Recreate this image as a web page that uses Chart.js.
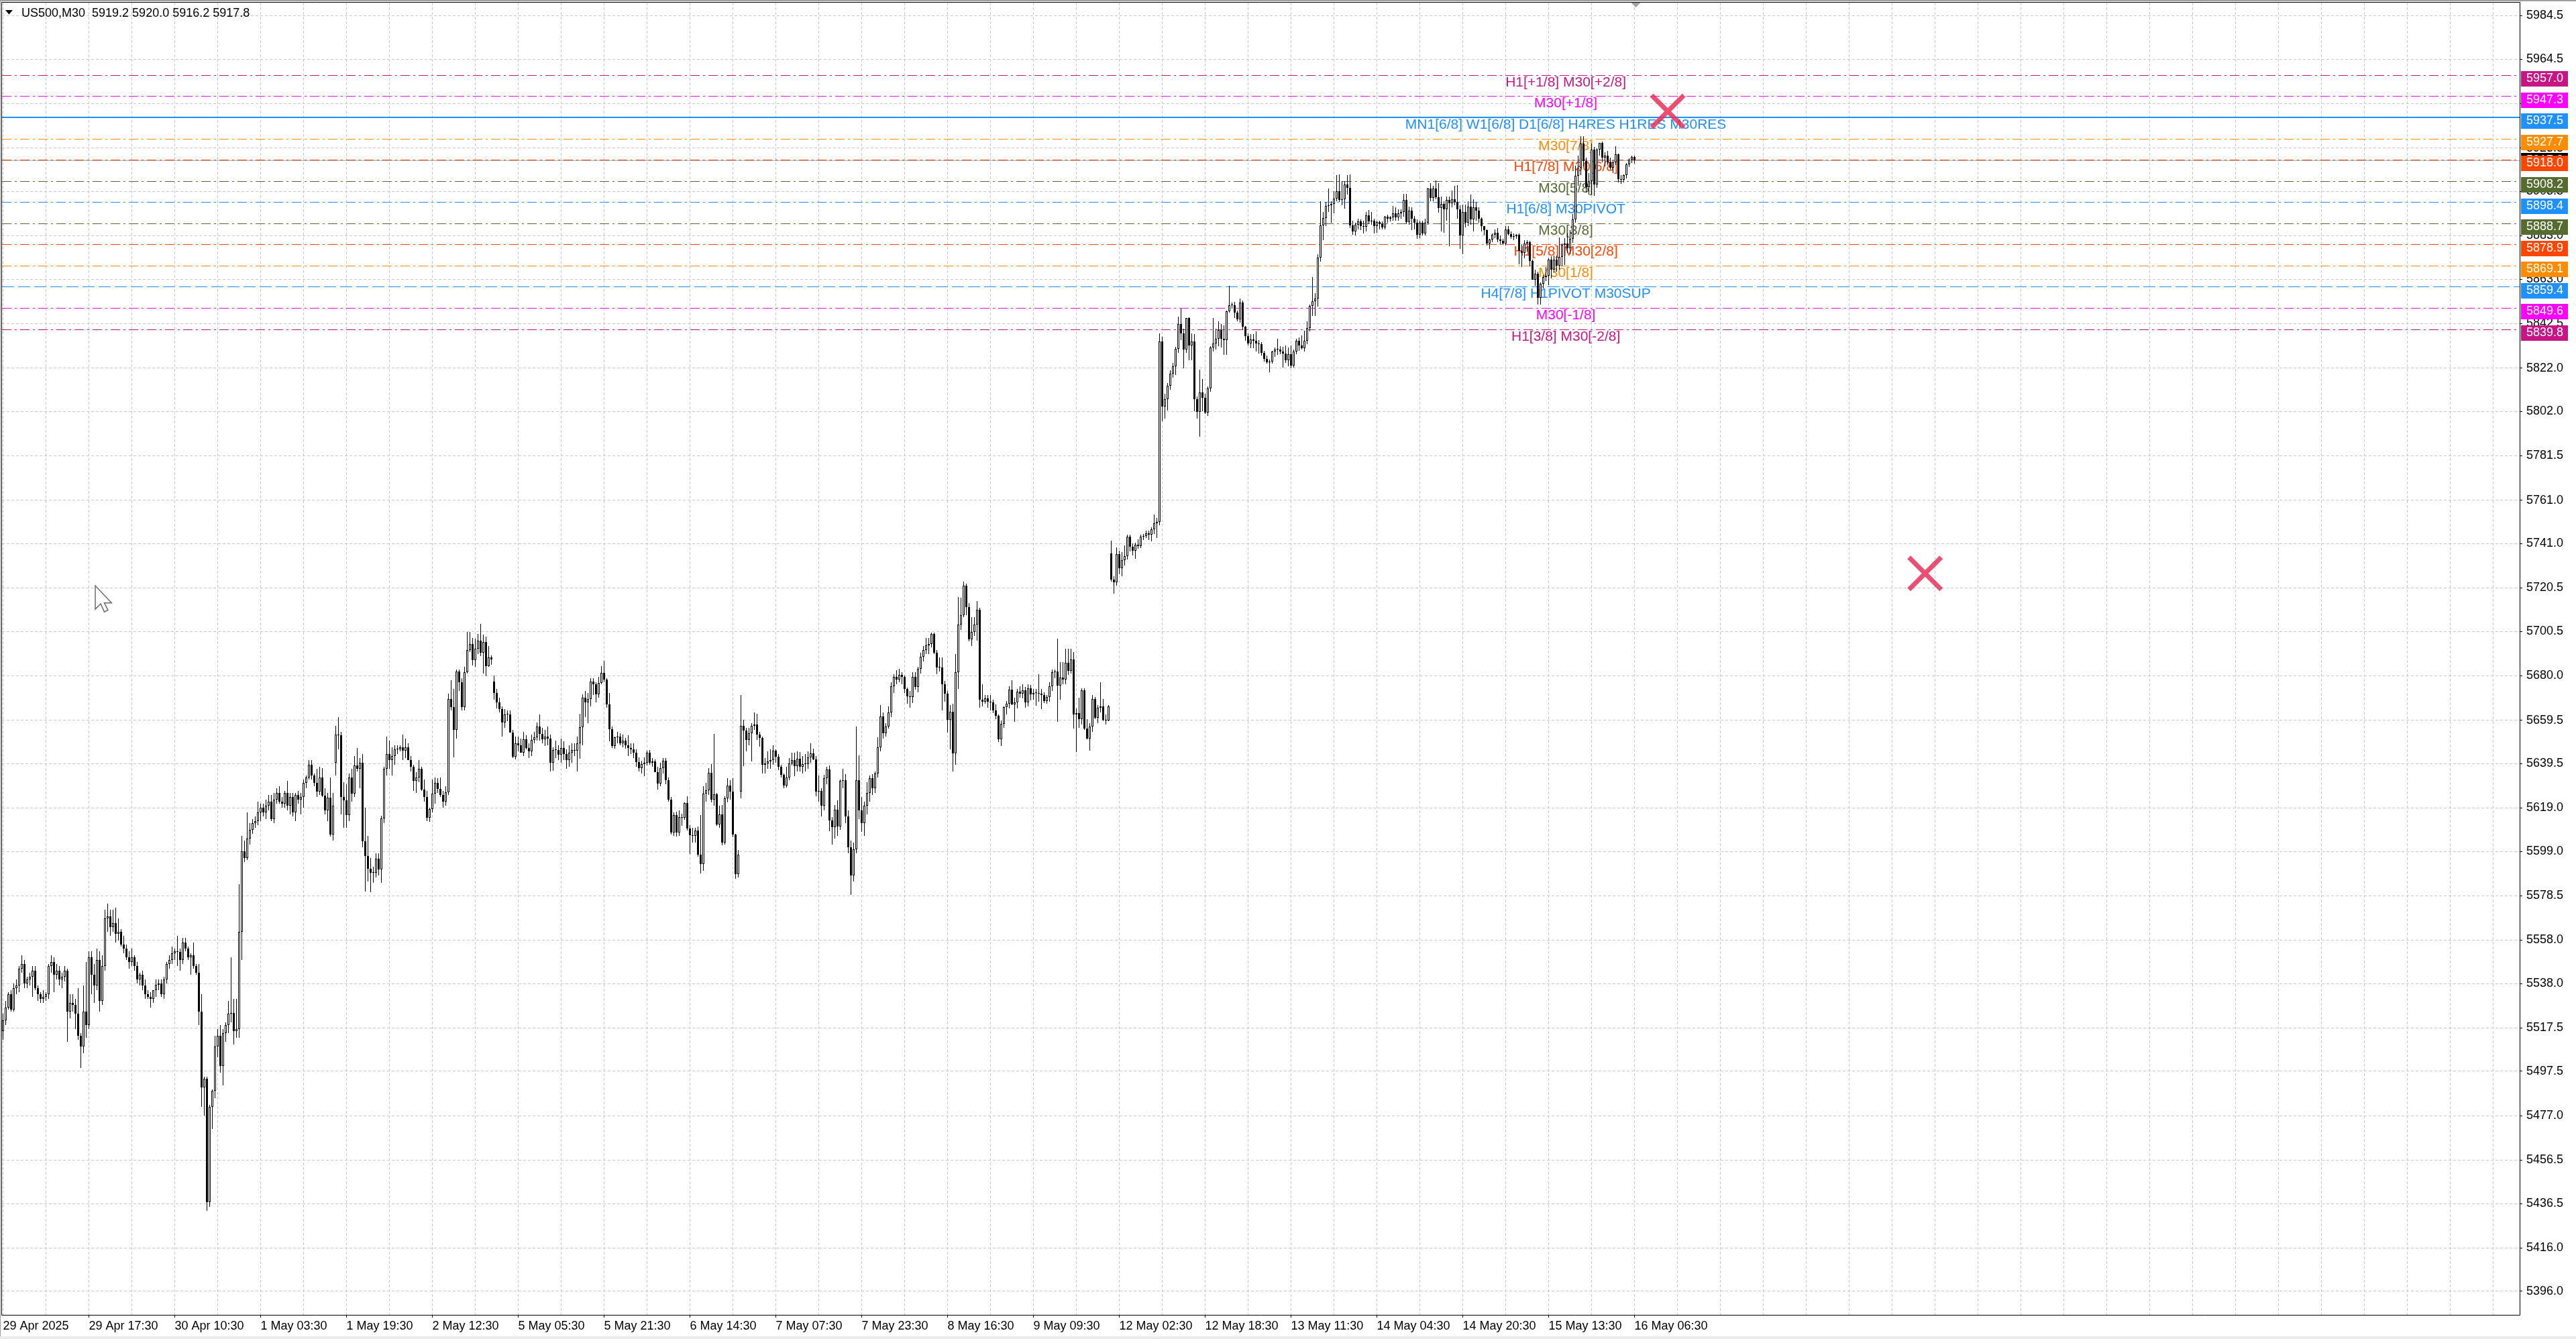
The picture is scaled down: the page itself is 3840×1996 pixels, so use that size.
<!DOCTYPE html>
<html>
<head>
<meta charset="utf-8">
<script src="https://cdn.jsdelivr.net/npm/chart.js@4.4.1/dist/chart.umd.min.js"></script>
<style>
html, body { margin: 0; padding: 0; background: #fff; }
canvas { display: block; }
</style>
</head>
<body>
<canvas id="chart" width="3840" height="1996"></canvas>
<script>
const symbol = "US500,M30"

const opens = [
5516,5521,5527,5533,5526,5536,5537,5545,5547,5538,
5540,5541,5544,5536,5533,5531,5532,5533,5546,5548,
5542,5544,5540,5541,5544,5525,5529,5528,5524,5514,
5509,5525,5519,5550,5542,5537,5549,5530,5546,5568,
5569,5564,5566,5561,5562,5556,5554,5550,5548,5550,
5546,5540,5542,5537,5533,5532,5531,5535,5537.5,5538,
5533,5540,5547,5549,5552,5553,5552.5,5549,5557,5554,
5550,5551,5546,5543,5525,5490,5494,5437,5481,5488.5,
5509,5514,5500,5515,5519,5524,5524.5,5516,5517,5562,
5599,5596,5605,5609,5612,5613,5617,5619,5617,5620,
5622,5614,5623,5626,5622,5621,5626,5620,5624,5617,
5625,5623,5624,5630.5,5633,5639,5634,5630.5,5626.5,5633,
5624.7,5618,5623.7,5606.7,5640,5653,5652.5,5624,5622.5,5615.7,
5633,5625.5,5638.7,5637,5640,5603.8,5597,5591,5589,5589,
5595.7,5590.7,5614.2,5637,5644,5641,5643,5646,5646,5647,
5645.5,5647,5641.2,5638,5631.5,5633,5637,5627.4,5624,5614.5,
5618.5,5625.5,5630.6,5627.8,5625,5622,5626.3,5669.4,5665.5,5655,
5682,5677,5665.7,5681.5,5691.8,5694.6,5687.2,5692.4,5696.2,5690.7,
5695.5,5684.5,5688.6,5677.3,5672,5667.6,5664.7,5658.5,5662,5662,
5653.9,5642.8,5649,5648,5644.6,5650.8,5646.7,5645,5650.5,5651.5,
5656.5,5653.2,5650.8,5651.8,5651,5640,5645.6,5645.8,5643.6,5646.7,
5643.9,5641,5644.6,5645.6,5645.3,5648.7,5656.4,5669.9,5667.8,5669.4,
5677.3,5676,5671.4,5676.6,5681.4,5678.1,5666.8,5655.2,5647.7,5651.5,
5652,5649,5650,5648,5646.7,5646,5644.6,5640.2,5637.4,5639.1,
5639.8,5644.6,5639.8,5640.5,5635.6,5630.2,5637.4,5640.8,5631.7,5622.9,
5607.8,5615.7,5607.8,5614.7,5614.5,5621.2,5609.5,5606.4,5606,5608.5,
5597.6,5593,5625.7,5627.1,5635.3,5622.9,5625.3,5611.3,5616,5603,
5623.6,5629.4,5626.7,5606.7,5588.4,5626.5,5657,5654.6,5650.3,5653.6,
5657,5657.5,5652.8,5651.3,5638.9,5639.7,5640.5,5641,5645.3,5642.8,
5637.9,5634.3,5629.4,5633.2,5639.7,5641,5638.4,5641.8,5638.1,5639.1,
5639.4,5642.2,5644.3,5641.5,5626.7,5627,5620,5632.7,5636.9,5613.1,
5610.2,5618.1,5610.5,5631.5,5631.8,5615,5601,5588,5600,5631.7,
5618,5612,5620,5626,5632.9,5628,5635,5647,5661.1,5653.4,
5656.7,5663.2,5675.3,5679.4,5678.2,5680.4,5679.4,5674,5670.4,5670.1,
5679.4,5674.8,5683.1,5688.7,5691.8,5694.1,5694.6,5699.3,5690.7,5683.8,
5683.8,5676.1,5671.8,5659.8,5663.5,5644.3,5681.5,5703.7,5707.9,5721.5,
5711.7,5696.9,5700.3,5703.7,5710.3,5668.9,5668,5669.6,5668,5667.8,
5663.9,5661.4,5650.8,5657.7,5665.6,5667,5673.5,5666.8,5667.6,5672.8,
5671.8,5673.2,5667.8,5674.2,5671.4,5672.2,5672,5671.8,5671,5668.4,
5670.1,5675.3,5681.8,5682,5675.6,5679.2,5678.3,5685.9,5682.3,5687.4,
5662.2,5662.7,5660,5673.2,5655.7,5651.1,5656.7,5669.4,5660.6,5665.3,
5666,5659.8,5659.4,5736.5,5724.5,5723.1,5736,5729.6,5733.3,5735.1,
5744.2,5739.5,5737.8,5740.5,5739.7,5744.2,5744.6,5745.6,5745.2,5747.6,
5750.3,5751,5834.1,5804.2,5807.5,5813.7,5819.5,5822.8,5830.7,5842.3,
5837.8,5830.4,5845,5832.3,5834.1,5807.5,5801.8,5810.6,5808.2,5801.4,
5812.7,5831.4,5833.4,5835.5,5839.6,5835.5,5835,5848.1,5850.8,5851,
5847.7,5844.6,5852.2,5840.9,5836.8,5833.2,5835.1,5834.6,5833.2,5832.9,
5829.1,5826.3,5824.6,5825,5829.6,5830.4,5830.5,5829.6,5828.6,5825.6,
5828.3,5823.2,5829.6,5834.5,5832.3,5831,5834.5,5840.5,5850.5,5852.8,
5854.1,5872.9,5887.9,5891.3,5896.8,5897.2,5897.7,5900.2,5903.6,5899.5,
5900,5906.7,5905.2,5887.9,5884.9,5888,5889.5,5887.6,5887.3,5892.5,
5889.5,5890,5887.6,5889.2,5888.5,5887,5891.7,5891,5891.5,5893.3,
5891.5,5893.5,5894,5899.4,5889.4,5894.5,5891,5889,5883.5,5889,
5884,5889,5904.9,5900.5,5904.9,5900.8,5895.8,5897.8,5895.3,5899.5,
5898,5899.9,5898.7,5895.3,5883,5894,5889,5896.4,5890.5,5896,
5894.6,5891,5887.4,5885.5,5879.3,5881.2,5883.5,5884.3,5881.4,5880.6,
5879.5,5886,5883.7,5882.6,5882.9,5883.3,5876,5875,5879.5,5880,
5871.3,5862.8,5865.5,5854.5,5861,5864.1,5864.5,5871.9,5867.5,5872,
5869.2,5873.1,5878.8,5879.5,5877.2,5881.6,5890.7,5910.8,5914.5,5925.5,
5917.5,5905.3,5908.2,5922.6,5906.6,5922.6,5925.7,5919,5920,5917,
5914.4,5917,5920.5,5909.2,5908.8,5911,5916,5918,5919.2
]

const highs = [
5524,5530,5534,5535,5538,5540,5546,5551,5549,5541,
5543,5546,5546,5537,5534,5535,5534,5547,5551,5550,
5547,5546,5543,5546,5545,5533,5533,5531,5536,5515,
5537,5548,5553,5553,5547,5554,5553,5551,5572,5575,
5572,5572,5573,5568,5563,5560,5556,5553,5554,5551,
5548,5543,5544,5540,5535,5534,5535,5540,5540,5540,
5541,5548,5551,5555,5554,5560,5554,5559,5559,5555,
5552,5557,5547,5547,5533,5495,5495,5482,5489,5514,
5517,5519,5517,5520,5530,5550,5531,5531,5584,5606,
5604,5617,5612,5614,5615,5622,5621,5621,5623,5625,
5625,5626,5628,5629,5624,5627,5631.5,5626,5626,5626,
5627,5626,5632,5634,5641,5641,5635,5637,5638,5637.5,
5628,5626,5633,5626,5657,5661,5654,5631,5630,5635,
5637,5643,5646.6,5642,5644,5619,5606,5596,5592,5598,
5598,5615.5,5638,5652,5650,5647,5648,5648,5648,5653,
5651,5649,5643,5639,5635.5,5641,5638,5632,5627,5619,
5632,5633,5632.6,5633,5627,5629,5671.6,5678,5674,5683,
5683,5679,5684,5700.3,5700.3,5697.5,5697,5699.3,5704,5699,
5698,5693.6,5689.5,5680.2,5674,5670,5666,5664.5,5664,5664,
5655,5652,5652,5651,5654,5652.6,5649,5653,5654,5658.5,
5662,5656,5655,5656.5,5653,5647,5650,5648,5651,5649.8,
5646,5648,5649,5649,5652,5662.6,5671.4,5673,5672,5679,
5679,5677,5679.6,5684.3,5686.9,5679,5672,5656.5,5652,5654,
5653.5,5653,5651.3,5652.5,5649,5649,5646,5642.2,5640.9,5642.5,
5645.5,5645.6,5642,5641.5,5638,5640,5642,5642,5633,5624,
5617,5617.2,5618,5616.2,5621.5,5624.5,5611,5610,5610,5610.5,
5615.7,5629,5630.5,5637.4,5639.4,5653.2,5626,5620,5620.4,5624.5,
5632.9,5631.9,5632.9,5607,5599.7,5671.1,5659.8,5656,5656,5658,
5663.2,5662.6,5654,5652,5642,5645,5646,5648,5646,5644,
5639,5635,5638,5642,5644.5,5644.6,5645,5644.9,5643,5644,
5645,5649,5646.5,5643,5634,5628,5634.3,5638,5638.5,5614.7,
5620.4,5622.6,5632,5637,5634.5,5618,5604,5603,5656.5,5643.3,
5624,5622,5631,5634,5634.5,5635.9,5651.5,5666.6,5663.2,5658,
5665.8,5677,5680.7,5682.5,5683.1,5681.8,5680,5674.5,5673,5681.8,
5681.8,5684.1,5690.5,5693.6,5697.5,5697.5,5700,5700,5692,5688.5,
5688.5,5677.6,5673,5666.6,5667,5690,5716.3,5716,5723.3,5722.5,
5713.5,5707,5707,5714.5,5711.5,5676,5671,5671,5671,5669,
5666.8,5662,5659.5,5666,5668.4,5675,5678,5670,5674,5675.3,
5676,5674.7,5676,5675.9,5674,5674,5680.7,5674,5672.5,5671,
5677,5682.8,5683,5697,5686.4,5686.4,5692.6,5692.4,5692.6,5691,
5665,5669.9,5674.3,5674.3,5660,5658,5671,5670.1,5666.5,5677,
5669.4,5662,5666.5,5742.4,5726,5739.2,5737.8,5737,5740.1,5745,
5745,5741,5741.5,5743,5745,5745.5,5747,5747,5748.5,5754.4,
5752.8,5838,5836.4,5810,5815,5821,5824.4,5831.8,5845.7,5849.5,
5840,5845,5845.5,5838,5837.5,5809,5821.2,5817,5810,5813.5,
5832,5845,5840.2,5843.6,5842.3,5841.6,5848.5,5860,5852.2,5852.5,
5848.5,5853.9,5853,5841.5,5838,5837.5,5837.5,5838.9,5835,5834,
5830,5827.7,5826,5830,5831.4,5835.5,5832,5831.8,5832.3,5831.4,
5832.3,5830.6,5835.5,5836,5837,5839.2,5843.6,5851.2,5864.1,5856.6,
5874.5,5898.9,5894,5898.5,5904.9,5899,5903.6,5911,5911.3,5908.3,
5908.3,5911,5911.3,5890,5889,5891,5890.5,5890,5894,5895,
5894,5891,5890,5889.8,5889.5,5892,5892.7,5892,5896.7,5896,
5895.3,5895.3,5902.2,5902.2,5896.4,5896,5892,5890.5,5890,5890,
5891,5905.2,5907.2,5906,5908.4,5907.2,5901,5899,5901,5901,
5904,5906,5906.2,5897,5897.4,5897.5,5899,5902,5900,5898.5,
5896,5891.5,5887.5,5886,5881.6,5884,5886,5886.6,5883,5881.5,
5887.4,5887.5,5885,5884,5883.8,5884,5879,5880.9,5881,5880.8,
5872,5867.5,5866.5,5861.5,5865,5868.5,5872.5,5873.5,5874,5874,
5882.2,5879.5,5882,5884.3,5885.7,5893,5915.4,5920.1,5928.9,5929,
5919,5912,5925.5,5924,5923.5,5926,5926.5,5921.6,5922,5919,
5918,5924.2,5921,5911,5911.3,5916.5,5918.6,5920,5920.0
]

const lows = [
5512,5519,5526,5525,5525,5533,5534,5543,5536,5536,
5537,5532,5535,5530,5529,5529,5530,5531,5543,5534,
5540,5537,5536,5539,5511,5522,5525,5517,5512,5499,
5506,5513,5517,5533,5529,5535,5525,5528,5544,5562,
5560,5562,5557,5558,5555,5552,5549,5545,5546,5544,
5538,5537,5535,5531,5531,5527,5529,5532,5535,5532,
5531,5538,5545,5547,5549,5546,5544,5547,5553,5549,
5542,5545,5542,5519,5481,5477,5433,5435,5471,5485,
5504,5497,5491,5511,5515,5520,5510,5513,5513,5549,
5594,5595,5602,5607,5610,5611,5613,5615,5614,5618,
5613,5612,5621,5621,5619,5619,5618,5616,5615,5613,
5621,5616,5619,5628,5632,5632,5629,5624,5625,5624,
5616,5613,5605.7,5604,5634,5646,5616,5610,5610,5613,
5622,5624,5636,5628,5601,5580.6,5585,5580,5584.5,5587,
5588,5584.5,5612,5634,5637,5634,5639,5644,5645,5641,
5642,5641,5636,5627,5626,5631,5627,5622,5613,5612.6,
5617,5621,5626,5624,5619,5620,5625,5664,5642.2,5651,
5673,5664,5664,5681,5691,5684.6,5684,5690,5689,5681,
5679.7,5684,5685,5669,5665,5663,5651.8,5656,5659,5653.9,
5642,5641.5,5645,5644.6,5643,5646,5642,5643,5649,5650,
5650,5649,5647.7,5648,5636,5636.3,5642,5641,5640,5641.2,
5637,5638,5640,5643,5636,5641.7,5648,5661,5658,5666,
5671,5667.6,5670,5676,5677,5665.2,5649.8,5646.6,5646.3,5649,
5648,5647,5646.5,5643,5644,5642,5638,5636,5635,5633.8,
5638.5,5639,5638,5635.5,5627.6,5629,5635,5630,5621.9,5606.9,
5606,5605.9,5606,5610.9,5613.5,5608.5,5597.9,5603,5602.9,5596.5,
5588.9,5589.9,5622,5625,5621.5,5620,5610.9,5610,5601.7,5602,
5621.5,5623,5605.5,5586.3,5587,5623.6,5638.4,5645,5648,5640.5,
5655,5650.5,5647.2,5635,5634.8,5637,5637,5639,5640,5636.6,
5633,5628,5628.5,5631.7,5638.5,5633.8,5636,5636,5635,5636,
5637,5640,5641,5624.3,5622,5615,5618,5630,5608.2,5602,
5605,5606,5609,5628,5612,5598,5579,5585,5598,5614,
5608,5606,5616,5622,5625,5626,5633,5645,5651,5652,
5655.5,5661,5672,5676,5677,5676,5672.2,5667,5665.3,5667.3,
5673.5,5672.5,5681,5686.5,5690,5690,5693,5690,5680.7,5682,
5663.9,5668,5653.9,5646,5635.9,5639,5674,5701,5707,5708,
5695.9,5693.8,5698.4,5696.2,5665.3,5666,5667,5665.3,5664,5662.7,
5660,5649.5,5647.7,5656,5662,5665,5666.5,5658.8,5665,5670,
5669.5,5665.3,5666,5668.5,5669,5666.3,5668,5664.7,5667.5,5667,
5668,5673,5679,5658.8,5669,5676,5676,5680.5,5681,5655.5,
5644.9,5656,5657.5,5655,5650.8,5645.3,5654,5660,5658,5663,
5659,5657.5,5659,5723.5,5718,5721.5,5726.9,5726,5731,5733.5,
5737.5,5735.5,5734,5738.5,5738.8,5742.5,5743.5,5742.5,5742,5745.5,
5743.6,5749.5,5797.3,5798.7,5802.4,5812,5817.5,5818.7,5829,5835,
5821.9,5829,5825.5,5825.5,5802,5798.7,5790.2,5802,5800.7,5800,
5811,5829.5,5830.5,5832,5831.4,5828,5828,5847.5,5849.5,5845,
5843.6,5843,5839.5,5834.5,5832.3,5831,5831,5829.5,5828.6,5827.7,
5825,5823.9,5820.1,5824,5827,5828,5828.5,5822.3,5824.2,5822.8,
5822,5822.3,5828.5,5830,5830.5,5829.5,5833,5839,5846,5846,
5850.4,5871,5881,5887.6,5894,5889,5893.4,5899,5898.5,5897,
5895.4,5902,5886.5,5883.6,5883,5886,5885.5,5884,5885,5888.5,
5888,5884,5884.5,5885.8,5886,5886,5889,5889.6,5889.8,5890,
5890,5891,5891.7,5888.5,5888,5885.5,5886,5881.6,5882,5883,
5883,5888,5899,5899,5899.8,5893.6,5885,5884.5,5890,5878.3,
5896,5897,5891,5877,5874.5,5887,5887.5,5888,5885,5890,
5889,5885,5883,5878.5,5876.8,5880,5882,5880,5879,5878.8,
5878.5,5883.2,5881.5,5881,5881.5,5869.8,5868.6,5872.5,5875.7,5868.8,
5862.6,5860,5851.4,5851.3,5858.7,5862,5860.3,5863.3,5866,5866.5,
5867.5,5869,5869.5,5875,5874.6,5879.7,5889,5906,5911,5915,
5903,5902,5902,5901.5,5905,5920,5917,5915,5916,5913.6,
5912,5915.5,5907.7,5907,5907.5,5909.5,5914.8,5916.5,5916.2
]

const closes = [
5521,5527,5533,5526,5536,5537,5545,5547,5538,5540,
5541,5544,5536,5533,5531,5532,5533,5546,5548,5542,
5544,5540,5541,5544,5525,5529,5528,5524,5514,5509,
5525,5519,5550,5542,5537,5549,5530,5546,5568,5569,
5564,5566,5561,5562,5556,5554,5550,5548,5550,5546,
5540,5542,5537,5533,5532,5531,5535,5537.5,5538,5533,
5540,5547,5549,5552,5553,5552.5,5549,5557,5554,5550,
5551,5546,5543,5525,5490,5494,5437,5481,5488.5,5509,
5514,5500,5515,5519,5524,5524.5,5516,5517,5562,5599,
5596,5605,5609,5612,5613,5617,5619,5617,5620,5622,
5614,5623,5626,5622,5621,5626,5620,5624,5617,5625,
5623,5624,5630.5,5633,5639,5634,5630.5,5626.5,5633,5624.7,
5618,5623.7,5606.7,5620,5653,5652.5,5624,5622.5,5615.7,5633,
5625.5,5638.7,5637,5640,5603.8,5597,5591,5589,5589,5595.7,
5590.7,5614.2,5637,5644,5641,5643,5646,5646,5647,5645.5,
5647,5641.2,5638,5631.5,5633,5637,5627.4,5624,5614.5,5618.5,
5625.5,5630.6,5627.8,5625,5622,5626.3,5669.4,5665.5,5655,5682,
5677,5665.7,5681.5,5691.8,5694.6,5687.2,5692.4,5696.2,5690.7,5695.5,
5684.5,5688.6,5687.5,5672,5667.6,5664.7,5658.5,5662,5662,5653.9,
5642.8,5649,5648,5644.6,5650.8,5646.7,5645,5650.5,5651.5,5656.5,
5653.2,5650.8,5651.8,5651,5640,5645.6,5645.8,5643.6,5646.7,5643.9,
5641,5644.6,5645.6,5645.3,5648.7,5656.4,5669.9,5667.8,5669.4,5677.3,
5676,5671.4,5676.6,5681.4,5678.1,5666.8,5655.2,5647.7,5651.5,5652,
5649,5650,5648,5646.7,5646,5644.6,5640.2,5637.4,5639.1,5639.8,
5644.6,5639.8,5640.5,5635.6,5630.2,5637.4,5640.8,5631.7,5622.9,5607.8,
5615.7,5607.8,5614.7,5614.5,5621.2,5609.5,5606.4,5606,5608.5,5597.6,
5593,5625.7,5627.1,5635.3,5622.9,5625.3,5611.3,5616,5603,5623.6,
5629.4,5626.7,5606.7,5588.4,5597.4,5657,5654.6,5650.3,5653.6,5657,
5657.5,5652.8,5651.3,5638.9,5639.7,5640.5,5641,5645.3,5642.8,5637.9,
5634.3,5629.4,5633.2,5639.7,5641,5638.4,5641.8,5638.1,5639.1,5639.4,
5642.2,5644.3,5641.5,5626.7,5627,5620,5632.7,5636.9,5613.1,5610.2,
5618.1,5610.5,5631.5,5631.8,5615,5601,5588,5600,5631.7,5618,
5612,5620,5626,5632.9,5628,5635,5647,5661.1,5653.4,5656.7,
5663.2,5675.3,5679.4,5678.2,5680.4,5679.4,5674,5670.4,5670.1,5679.4,
5674.8,5683.1,5688.7,5691.8,5694.1,5694.6,5699.3,5690.7,5683.8,5683.8,
5676.1,5671.8,5659.8,5663.5,5644.3,5681.5,5703.7,5707.9,5721.5,5711.7,
5696.9,5700.3,5703.7,5710.3,5668.9,5668,5669.6,5668,5667.8,5663.9,
5661.4,5650.8,5657.7,5665.6,5667,5673.5,5666.8,5667.6,5672.8,5671.8,
5673.2,5667.8,5674.2,5671.4,5672.2,5672,5671.8,5671,5668.4,5670.1,
5675.3,5681.8,5682,5675.6,5679.2,5678.3,5685.9,5682.3,5687.4,5662.2,
5662.7,5660,5673.2,5655.7,5651.1,5656.7,5669.4,5660.6,5665.3,5666,
5659.8,5659.4,5665.8,5724.5,5723.1,5736,5729.6,5733.3,5735.1,5744.2,
5739.5,5737.8,5740.5,5739.7,5744.2,5744.6,5745.6,5745.2,5747.6,5750.3,
5751,5834.1,5804.2,5807.5,5813.7,5819.5,5822.8,5830.7,5842.3,5837.8,
5830.4,5845,5832.3,5834.1,5807.5,5801.8,5810.6,5808.2,5801.4,5812.7,
5831.4,5833.4,5835.5,5839.6,5835.5,5835,5848.1,5850.8,5851,5847.7,
5844.6,5852.2,5840.9,5836.8,5833.2,5835.1,5834.6,5833.2,5832.9,5829.1,
5826.3,5824.6,5825,5829.6,5830.4,5830.5,5829.6,5828.6,5825.6,5828.3,
5823.2,5829.6,5834.5,5832.3,5831,5834.5,5840.5,5850.5,5852.8,5854.1,
5872.9,5887.9,5891.3,5896.8,5897.2,5897.7,5900.2,5903.6,5899.5,5900,
5906.7,5905.2,5887.9,5884.9,5888,5889.5,5887.6,5887.3,5892.5,5889.5,
5890,5887.6,5889.2,5888.5,5887,5891.7,5891,5891.5,5893.3,5891.5,
5893.5,5894,5899.4,5889.4,5894.5,5891,5889,5883.5,5889,5884,
5889,5904.9,5900.5,5904.9,5900.8,5895.8,5897.8,5895.3,5899.5,5898,
5899.9,5898.7,5895.3,5883,5894,5889,5896.4,5890.5,5896,5894.6,
5891,5887.4,5885.5,5879.3,5881.2,5883.5,5884.3,5881.4,5880.6,5879.5,
5886,5883.7,5882.6,5882.9,5883.3,5876,5875,5879.5,5880,5871.3,
5862.8,5865.5,5854.5,5861,5864.1,5864.5,5871.9,5867.5,5872,5869.2,
5873.1,5878.8,5879.5,5877.2,5881.6,5890.7,5910.8,5914.5,5925.5,5917.5,
5905.3,5908.2,5922.6,5906.6,5922.6,5925.7,5919,5920,5917,5914.4,
5917,5920.5,5909.2,5908.8,5911,5916,5918,5919.2,5917.8
]

const timeLabels = ["29 Apr 2025", "29 Apr 17:30", "30 Apr 10:30", "1 May 03:30", "1 May 19:30",
    "2 May 12:30", "5 May 05:30", "5 May 21:30", "6 May 14:30", "7 May 07:30", "7 May 23:30",
    "8 May 16:30", "9 May 09:30", "12 May 02:30", "12 May 18:30", "13 May 11:30", "14 May 04:30",
    "14 May 20:30", "15 May 13:30", "16 May 06:30"]
const timeLabelBars = [0, 32, 64, 96, 128, 160, 192, 224, 256, 288, 320, 352, 384, 416, 448, 480, 512, 544, 576, 608]

const priceTicks = [5984.5, 5964.5, 5944.0, 5923.5, 5903.5, 5883.0, 5863.0, 5842.5, 5822.0, 5802.0,
    5781.5, 5761.0, 5741.0, 5720.5, 5700.5, 5680.0, 5659.5, 5639.5, 5619.0, 5599.0, 5578.5, 5558.0,
    5538.0, 5517.5, 5497.5, 5477.0, 5456.5, 5436.5, 5416.0, 5396.0]

const levelPrices = [5957.0, 5947.3, 5937.5, 5927.7, 5918.0, 5908.2, 5898.4, 5888.7, 5878.9, 5869.1, 5859.4, 5849.6, 5839.8]
const levelNames = ["H1[+1/8] M30[+2/8]", "M30[+1/8]", "MN1[6/8] W1[6/8] D1[6/8] H4RES H1RES M30RES",
    "M30[7/8]", "H1[7/8] M30[6/8]", "M30[5/8]", "H1[6/8] M30PIVOT", "M30[3/8]", "H1[5/8] M30[2/8]",
    "M30[1/8]", "H4[7/8] H1PIVOT M30SUP", "M30[-1/8]", "H1[3/8] M30[-2/8]"]

const crossBars = [620.4, 716.3]
const crossPrices = [5940.4, 5727.2]

// styles
const levelColors = ["#C71585", "#FF00FF", "#1E90FF", "#FF8C00", "#FF4500", "#556B2F", "#1E90FF",
    "#556B2F", "#FF4500", "#FF8C00", "#1E90FF", "#FF00FF", "#C71585"]
const levelStyles = ["dashdot", "dashdot", "solid", "dashdot", "dashdot", "dashdot", "dashdot",
    "dashdot", "dashdot", "dashdot", "dash", "dashdot", "dashdot"]

const FONT = '"Liberation Sans", Arial, sans-serif'
const X_MIN = -0.375, X_MAX = 937.875
const Y_MIN = 5385.15, Y_MAX = 5990.535
const LABEL_BAR = 582.4

Chart.defaults.font.family = FONT
Chart.defaults.color = "#000"

const last = closes.length - 1
const gridBars = []
for (let b = 0; b <= 928; b += 16) gridBars.push(b)

const wickData = highs.map((h, i) => ({ x: i, y: [lows[i], h] }))
const bodyData = opens.map((o, i) => ({ x: i, y: [o, closes[i]] }))
const bodyFill = opens.map((o, i) => closes[i] >= o ? "#ffffff" : "#000000")

const dashFor = s => s === "dash" ? [18, 6] : s === "solid" ? [] : [14, 5, 3, 5]

const levelSets = levelPrices.map((p, k) => ({
    type: "line",
    data: [{ x: X_MIN, y: p }, { x: X_MAX, y: p }],
    borderColor: levelColors[k],
    borderWidth: levelStyles[k] === "solid" ? 2 : 1,
    borderDash: dashFor(levelStyles[k]),
    pointRadius: 0,
    order: 5
}))

// snap bars and horizontal lines to whole pixels, like the terminal does
const pixelSnap = {
    id: "pixelSnap",
    beforeDatasetDraw(chart, args) {
        const meta = args.meta
        if (meta.type === "bar") {
            meta.data.forEach(el => {
                el.y = Math.round(el.y)
                el.base = Math.round(el.base)
            })
        } else if (meta.type === "line") {
            const w = meta.dataset.options.borderWidth
            meta.data.forEach(el => {
                el.y = w % 2 ? Math.floor(el.y) + 0.5 : Math.round(el.y)
            })
        }
    }
}

const overlay = {
    id: "overlay",
    beforeDraw(chart) {
        const ctx = chart.ctx
        ctx.save()
        ctx.fillStyle = "#ffffff"
        ctx.fillRect(0, 0, chart.width, chart.height)
        ctx.restore()
    },
    beforeDatasetsDraw(chart) {
        const ctx = chart.ctx
        const x = chart.scales.x.getPixelForValue(LABEL_BAR)
        ctx.save()
        ctx.font = "21px " + FONT
        ctx.textAlign = "center"
        ctx.textBaseline = "middle"
        levelPrices.forEach((p, k) => {
            ctx.fillStyle = levelColors[k]
            ctx.fillText(levelNames[k], x, chart.scales.y.getPixelForValue(p) + 11)
        })
        ctx.restore()
    },
    afterDraw(chart) {
        const ctx = chart.ctx
        const a = chart.chartArea
        const ys = chart.scales.y
        ctx.save()

        // window edges
        ctx.fillStyle = "#a0a0a0"
        ctx.fillRect(0, 0, chart.width, 2)
        ctx.fillRect(0, 0, 1, chart.height)
        ctx.fillStyle = "#ececec"
        ctx.fillRect(0, chart.height - 4, chart.width, 4)

        // chart frame
        ctx.strokeStyle = "#000"
        ctx.lineWidth = 1
        ctx.beginPath()
        ctx.moveTo(a.left - 0.5, a.top - 0.5)
        ctx.lineTo(a.right + 0.5, a.top - 0.5)
        ctx.lineTo(a.right + 0.5, a.bottom + 0.5)
        ctx.lineTo(a.left - 0.5, a.bottom + 0.5)
        ctx.closePath()
        ctx.stroke()

        // price boxes on the right axis
        ctx.font = "18px " + FONT
        ctx.textAlign = "left"
        ctx.textBaseline = "middle"
        const bidY = Math.round(ys.getPixelForValue(closes[last]))
        ctx.fillStyle = "#000"
        ctx.fillRect(a.right + 2, bidY - 11, 70, 23)
        ctx.fillStyle = "#fff"
        ctx.fillText(closes[last].toFixed(1), a.right + 10, bidY)
        levelPrices.forEach((p, k) => {
            const y = Math.round(ys.getPixelForValue(p))
            ctx.fillStyle = levelColors[k]
            ctx.fillRect(a.right + 2, y - 6, 70, 23)
            ctx.fillStyle = "#fff"
            ctx.fillText(p.toFixed(1), a.right + 10, y + 5.5)
        })

        // header
        ctx.fillStyle = "#000"
        ctx.beginPath()
        ctx.moveTo(8, 15)
        ctx.lineTo(19, 15)
        ctx.lineTo(13.5, 21.5)
        ctx.closePath()
        ctx.fill()
        const ohlc = [opens[last], highs[last], lows[last], closes[last]].map(v => v.toFixed(1)).join(" ")
        ctx.fillText(symbol + "  " + ohlc, 32, 20)

        // chart shift marker
        const sx = chart.scales.x.getPixelForValue(last) + 2
        ctx.fillStyle = "#a0a0a0"
        ctx.beginPath()
        ctx.moveTo(sx - 7, a.top)
        ctx.lineTo(sx + 7, a.top)
        ctx.lineTo(sx, a.top + 7)
        ctx.closePath()
        ctx.fill()

        // mouse pointer
        const pts = [[0, 0], [0, 26], [6, 20], [10, 29], [14, 27], [10, 19], [18, 19]]
        ctx.translate(142, 873)
        ctx.scale(1.35, 1.35)
        ctx.beginPath()
        pts.forEach((q, i) => i ? ctx.lineTo(q[0], q[1]) : ctx.moveTo(q[0], q[1]))
        ctx.closePath()
        ctx.fillStyle = "#fff"
        ctx.fill()
        ctx.strokeStyle = "#6a6a6a"
        ctx.lineWidth = 1.1
        ctx.stroke()
        ctx.restore()
    }
}

new Chart(document.getElementById("chart"), {
    type: "bar",
    data: {
        datasets: [
            {
                type: "scatter",
                data: crossBars.map((b, k) => ({ x: b, y: crossPrices[k] })),
                pointStyle: "crossRot",
                pointRadius: 34,
                borderWidth: 7,
                borderColor: "rgba(232, 48, 88, 0.85)",
                backgroundColor: "rgba(232, 48, 88, 0.85)",
                order: 0
            },
            {
                data: bodyData,
                backgroundColor: bodyFill,
                borderColor: "#000",
                borderWidth: 1,
                borderSkipped: false,
                barThickness: 3,
                minBarLength: 1,
                inflateAmount: 0,
                grouped: false,
                order: 1
            },
            {
                data: wickData,
                backgroundColor: "#000",
                borderWidth: 0,
                barThickness: 1,
                inflateAmount: 0,
                grouped: false,
                order: 2
            },
            {
                type: "line",
                data: [{ x: X_MIN, y: closes[last] }, { x: X_MAX, y: closes[last] }],
                borderColor: "#b4b4b4",
                borderWidth: 1,
                pointRadius: 0,
                order: 4
            },
            ...levelSets
        ]
    },
    options: {
        responsive: false,
        devicePixelRatio: 1,
        animation: false,
        events: [],
        layout: { autoPadding: false, padding: { left: 3, top: 4, right: 0, bottom: 0 } },
        plugins: { legend: { display: false }, tooltip: { enabled: false } },
        scales: {
            x: {
                type: "linear",
                min: X_MIN,
                max: X_MAX,
                offset: false,
                afterBuildTicks: s => { s.ticks = gridBars.map(v => ({ value: v })) },
                afterFit: s => {
                    s.height = 36
                    s.paddingLeft = 0
                    s.paddingRight = 0
                },
                grid: {
                    offset: false,
                    color: "#c8c8c8",
                    lineWidth: 1,
                    tickLength: 4,
                    tickColor: c => (c.tick && c.tick.value > 0 && timeLabelBars.includes(c.tick.value)) ? "#000" : "rgba(0,0,0,0)"
                },
                border: { display: false, dash: [4, 3] },
                ticks: {
                    autoSkip: false,
                    maxRotation: 0,
                    minRotation: 0,
                    align: "start",
                    padding: 2,
                    font: { size: 18 },
                    color: "#000",
                    callback: v => {
                        const k = timeLabelBars.indexOf(v)
                        return k >= 0 ? timeLabels[k] : ""
                    }
                }
            },
            y: {
                type: "linear",
                position: "right",
                min: Y_MIN,
                max: Y_MAX,
                afterBuildTicks: s => { s.ticks = priceTicks.map(v => ({ value: v })) },
                afterFit: s => {
                    s.width = 84
                    s.paddingTop = 0
                    s.paddingBottom = 0
                },
                grid: {
                    color: "#c8c8c8",
                    lineWidth: 1,
                    tickLength: 4,
                    tickColor: "#000"
                },
                border: { display: false, dash: [4, 3] },
                ticks: {
                    autoSkip: false,
                    padding: 6,
                    font: { size: 18 },
                    color: "#000",
                    callback: v => Number(v).toFixed(1)
                }
            }
        }
    },
    plugins: [pixelSnap, overlay]
})
</script>
</body>
</html>
